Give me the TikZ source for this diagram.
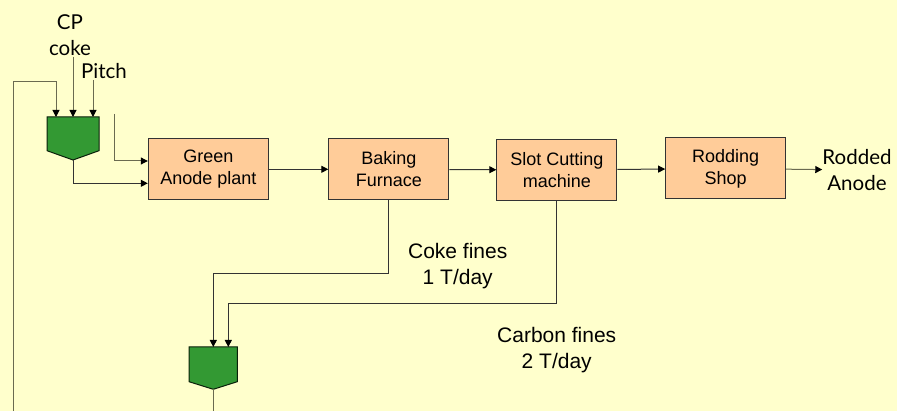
\documentclass[tikz,border=0pt]{standalone}
\usepackage{fontspec}
\setmainfont{Liberation Sans}
\newfontfamily\gillfont{Lato}
\usepackage{tikz}
\usetikzlibrary{positioning,arrows.meta,calc}
\usepackage{xcolor}
\definecolor{paper}{HTML}{FFFFCC}
\definecolor{peach}{HTML}{FFCC99}
\definecolor{hopgreen}{HTML}{339933}
\definecolor{linegray}{HTML}{6A6A50}
\definecolor{edgegray}{HTML}{333333}

\begin{document}
\begin{tikzpicture}[x=1pt, y=-1pt,
    proc/.style={rectangle, draw=edgegray, line width=1pt, fill=peach, minimum width=120pt, minimum height=61pt, inner sep=0pt, align=center, font=\fontsize{18}{22}\selectfont},
    flowlbl/.style={align=center, inner sep=0pt, font=\fontsize{21}{26.6}\selectfont},
    feedlbl/.style={align=center, inner sep=1pt, font=\gillfont\fontsize{20.5}{26}\selectfont},
    hopper/.style={draw=black!80!hopgreen, line width=1pt, fill=hopgreen, line join=miter},
    arr/.style={draw=edgegray, line width=1pt, -{Triangle[length=7pt,width=7pt,color=black]}},
    feedarr/.style={arr, draw=linegray},
    plain/.style={draw=linegray, line width=1pt}]
    \fill[paper] (0,0) rectangle (897,411);
    \useasboundingbox (0,0) rectangle (897,411);

    % Process line
    \node[proc] (green) at (208.3,169.3) {Green\\Anode plant};
    \node[proc] (baking) at (388.8,169.3) {Baking\\Furnace};
    \node[proc] (slot) at (556.8,170) {Slot Cutting\\machine};
    \node[proc] (rodding) at (725.7,168.5) {Rodding\\Shop};
    \node[feedlbl, inner sep=0pt] (anode) at (857,170) {Rodded\\Anode};

    \draw[arr] (green) -- (baking);
    \draw[arr] (baking) -- (slot);
    \draw[arr] (slot) -- (rodding);
    \draw[feedarr] (rodding) -- (anode);

    % Feed hopper
    \draw[hopper] (47,117) -- (99,117) -- (99,150.7) -- (73,160) -- (47,150.7) -- cycle;
    \coordinate (hopA tip) at (73,160);
    \coordinate (hopA in1) at (56,117);
    \coordinate (hopA in2) at (73,117);
    \coordinate (hopA in3) at (93,117);
    \node[feedlbl] (cp) at (70,35) {CP\\coke};
    \node[feedlbl] (pitch) at (104,71) {Pitch};
    \coordinate (recycle) at (13,411);
    \coordinate (pitch2) at (114,114);

    \draw[feedarr] (cp.south -| hopA in2) -- (hopA in2);
    \draw[feedarr] (pitch.south -| hopA in3) -- (hopA in3);
    \draw[feedarr] (recycle) |- ($(hopA in1)+(0,-35)$) -- (hopA in1);
    \draw[feedarr] (pitch2) |- ([yshift=8.3pt]green.west);
    \draw[arr] (hopA tip) |- ([yshift=-14pt]green.west);

    % Fines hopper
    \draw[hopper] (189,347) -- (237.3,347) -- (237.3,381.7) -- (213.3,389.3) -- (189,381.7) -- cycle;
    \coordinate (hopB tip) at (213.3,389.3);
    \coordinate (hopB in1) at (213.3,347);
    \coordinate (hopB in2) at (228.3,347);
    \coordinate (hopB out) at (213.3,411);

    \draw[arr] (baking.south) -- ++(0,73.3) -| (hopB in1);
    \draw[arr] (slot.south) -- ++(0,102.8) -| (hopB in2);
    \draw[plain] (hopB tip) -- (hopB out);

    \node[flowlbl] (cokelbl) at (457.7,266) {Coke fines\\1 T/day};
    \node[flowlbl] (carbonlbl) at (556.7,350) {Carbon fines\\2 T/day};
\end{tikzpicture}
\end{document}
